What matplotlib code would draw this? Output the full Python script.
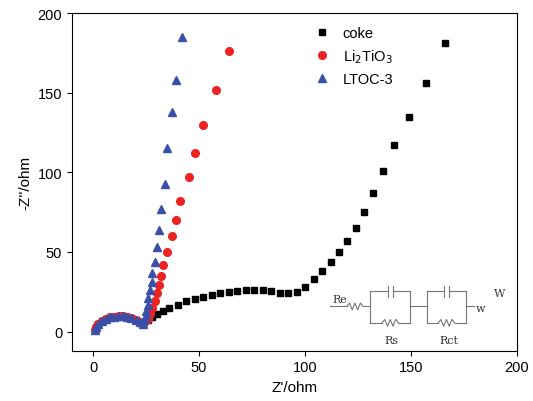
import numpy as np
from matplotlib import pyplot as plt

plt.rcParams['font.family'] = ['Liberation Sans', 'DejaVu Sans']

arc_x = [1, 1.5, 2.5, 4, 6, 8, 10, 12, 14, 16, 18, 20, 22, 23.5]
arc_y = [1, 3, 5, 6.5, 8, 9, 9.5, 9.8, 9.7, 9.3, 8.5, 7.5, 6, 5]

coke_x = arc_x + [26, 28, 30, 33, 36, 40, 44, 48, 52, 56, 60, 64, 68, 72, 76, 80, 84, 88, 92,
                  96, 100, 104, 108, 112, 116, 120, 124, 128, 132, 137, 142, 149, 157, 166]
coke_y = arc_y + [7, 9, 11, 13, 15, 17, 19, 20.5, 22, 23, 24, 25, 25.5, 26, 26, 26, 25.5, 24.5, 24,
                  25, 28, 33, 38, 44, 50, 57, 65, 75, 87, 101, 117, 135, 156, 181]
lto_x = arc_x + [26, 27, 28, 29, 30, 31, 32, 33, 35, 37, 39, 41, 45, 48, 52, 58, 64]
lto_y = arc_y + [8, 11, 15, 19, 24, 29, 35, 42, 50, 60, 70, 82, 97, 112, 130, 152, 176]
ltoc_x = arc_x + [24, 25, 25, 26, 26, 27, 28, 28, 29, 30, 31, 32, 34, 35, 37, 39, 42]
ltoc_y = arc_y + [7, 10, 13, 17, 21, 26, 31, 37, 44, 53, 64, 77, 93, 115, 138, 158, 185]

fig, ax = plt.subplots(figsize=(5.33, 4.02), dpi=100)
fig.subplots_adjust(left=0.135, right=0.97, top=0.965, bottom=0.125)
ax.plot(coke_x, coke_y, 's', color='black', ms=5, label='coke')
ax.plot(lto_x, lto_y, 'o', color='#ee2222', ms=5.5, label='Li$_2$TiO$_3$')
ax.plot(ltoc_x, ltoc_y, '^', color='#3a4fa8', ms=6, label='LTOC-3')
ax.set_xlim(-10, 200)
ax.set_ylim(-12, 200)
ax.set_xticks([0, 50, 100, 150, 200])
ax.set_yticks([0, 50, 100, 150, 200])
ax.set_xlabel("Z'/ohm", fontsize=11)
ax.set_ylabel("-Z''/ohm", fontsize=11)
ax.tick_params(labelsize=10.5)
ax.legend(loc='upper left', bbox_to_anchor=(0.5, 1.0), frameon=False, fontsize=10.5,
          handletextpad=0.4, labelspacing=0.5)

# equivalent circuit inset
ins = fig.add_axes([0.62, 0.14, 0.34, 0.17])
ins.set_xlim(0, 10)
ins.set_ylim(0, 5)
ins.axis('off')
lc = dict(color='#777777', lw=0.8)
zx = [0, 0.15, 0.3, 0.45, 0.6, 0.75, 0.9]
zy = [0, 0.25, -0.25, 0.25, -0.25, 0.25, 0]


def resistor(x0, y0):
    ins.plot([x0 + v for v in zx], [y0 + v for v in zy], **lc)


ins.plot([0, 0.9], [2.8, 2.8], **lc)
resistor(0.9, 2.8)
ins.plot([1.8, 2.2], [2.8, 2.8], **lc)
for bx in (2.2, 5.3):
    ins.plot([bx, bx], [1.6, 3.9], **lc)
    ins.plot([bx + 2.2, bx + 2.2], [1.6, 3.9], **lc)
    ins.plot([bx, bx + 0.95], [3.9, 3.9], **lc)
    ins.plot([bx + 1.25, bx + 2.2], [3.9, 3.9], **lc)
    ins.plot([bx + 0.95, bx + 0.95], [3.5, 4.3], **lc)
    ins.plot([bx + 1.25, bx + 1.25], [3.5, 4.3], **lc)
    ins.plot([bx, bx + 0.65], [1.6, 1.6], **lc)
    resistor(bx + 0.65, 1.6)
    ins.plot([bx + 1.55, bx + 2.2], [1.6, 1.6], **lc)
ins.plot([4.4, 5.3], [2.8, 2.8], **lc)
ins.plot([7.5, 7.9], [2.8, 2.8], **lc)
tf = dict(family='DejaVu Serif', fontsize=8, color='#333333')
ins.text(0.1, 3.1, 'Re', **tf)
ins.text(3.0, 0.1, 'Rs', **tf)
ins.text(6.0, 0.1, 'Rct', **tf)
ins.text(8.0, 2.5, 'w', **tf)
ins.text(9.0, 3.6, 'W', **tf)

fig.savefig('out.png')
